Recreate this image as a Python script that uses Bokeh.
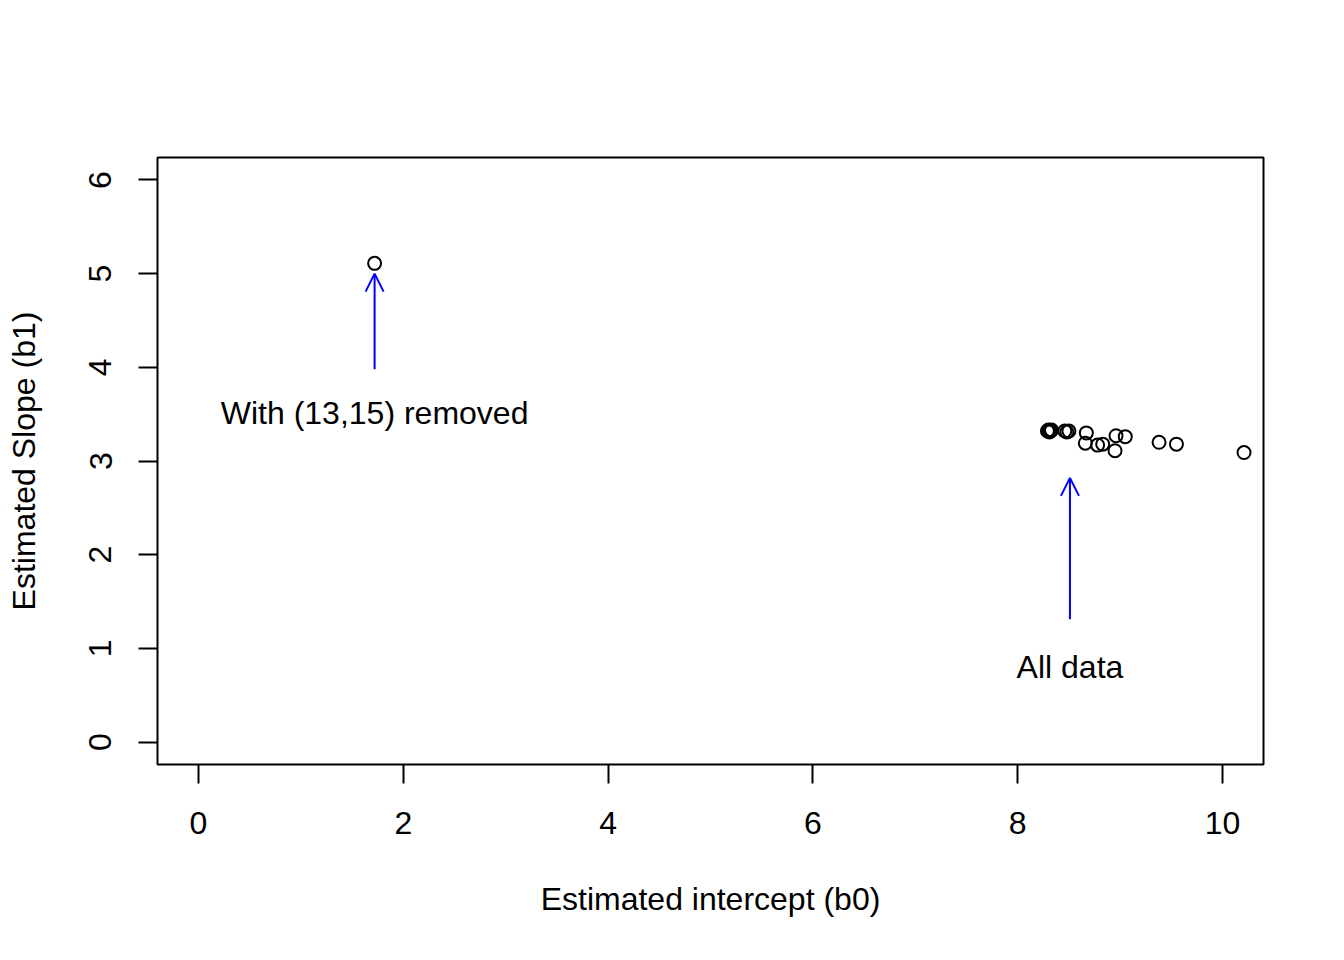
from bokeh.plotting import figure
from bokeh.models import Range1d, Arrow, OpenHead, Label, FixedTicker
from bokeh.embed import file_html
from bokeh.resources import INLINE

# Estimated coefficients
b0 = [1.72, 8.29, 8.30, 8.31, 8.32, 8.33, 8.46, 8.48, 8.50,
      8.67, 8.66, 8.78, 8.83, 8.96, 9.05, 8.95, 9.38, 9.55, 10.21]
b1 = [5.11, 3.32, 3.33, 3.31, 3.32, 3.33, 3.32, 3.31, 3.32,
      3.30, 3.19, 3.17, 3.18, 3.27, 3.26, 3.11, 3.20, 3.18, 3.09]

x_ticks = [0, 2, 4, 6, 8, 10]
y_ticks = [0, 1, 2, 3, 4, 5, 6]

arrow1 = dict(x=1.72, y_start=3.98, y_end=5.0, label="With (13,15) removed", label_y=3.51)
arrow2 = dict(x=8.51, y_start=1.31, y_end=2.82, label="All data", label_y=0.80)

FONT = "Liberation Sans"
FS = "32px"

p = figure(width=1344, height=960, output_backend="svg", toolbar_location=None,
           x_range=Range1d(-0.4, 10.4), y_range=Range1d(-0.24, 6.24),
           min_border_left=157, min_border_right=81, min_border_top=157, min_border_bottom=196)
p.grid.visible = False
p.background_fill_color = "white"
p.border_fill_color = "white"
p.outline_line_color = "black"
p.outline_line_width = 2

p.scatter(b0, b1, size=13, fill_color=None, line_color="black", line_width=2)

for ar in (arrow1, arrow2):
    p.add_layout(Arrow(end=OpenHead(size=18, line_color="blue", line_width=2),
                       x_start=ar["x"], y_start=ar["y_start"], x_end=ar["x"], y_end=ar["y_end"],
                       line_color="blue", line_width=2))
    p.add_layout(Label(x=ar["x"], y=ar["label_y"], text=ar["label"], text_align="center",
                       text_baseline="middle", text_font=FONT, text_font_size=FS, text_color="black"))

for ax in (p.xaxis[0], p.yaxis[0]):
    ax.axis_line_color = None
    ax.major_tick_in = 0
    ax.major_tick_out = 19
    ax.major_tick_line_width = 2
    ax.major_tick_line_color = "black"
    ax.minor_tick_line_color = None
    ax.major_label_text_font = FONT
    ax.major_label_text_font_size = FS
    ax.major_label_text_color = "black"
    ax.axis_label_text_font = FONT
    ax.axis_label_text_font_size = FS
    ax.axis_label_text_font_style = "normal"
    ax.axis_label_text_color = "black"

p.xaxis.ticker = FixedTicker(ticks=x_ticks)
p.yaxis.ticker = FixedTicker(ticks=y_ticks)
p.xaxis.axis_label = "Estimated intercept (b0)"
p.yaxis.axis_label = "Estimated Slope (b1)"
p.xaxis.major_label_standoff = 28
p.xaxis.axis_label_standoff = 44
p.yaxis.major_label_orientation = "vertical"
p.yaxis.major_label_standoff = 27
p.yaxis.axis_label_standoff = 45

open("out.html", "w").write(file_html(p, INLINE))
